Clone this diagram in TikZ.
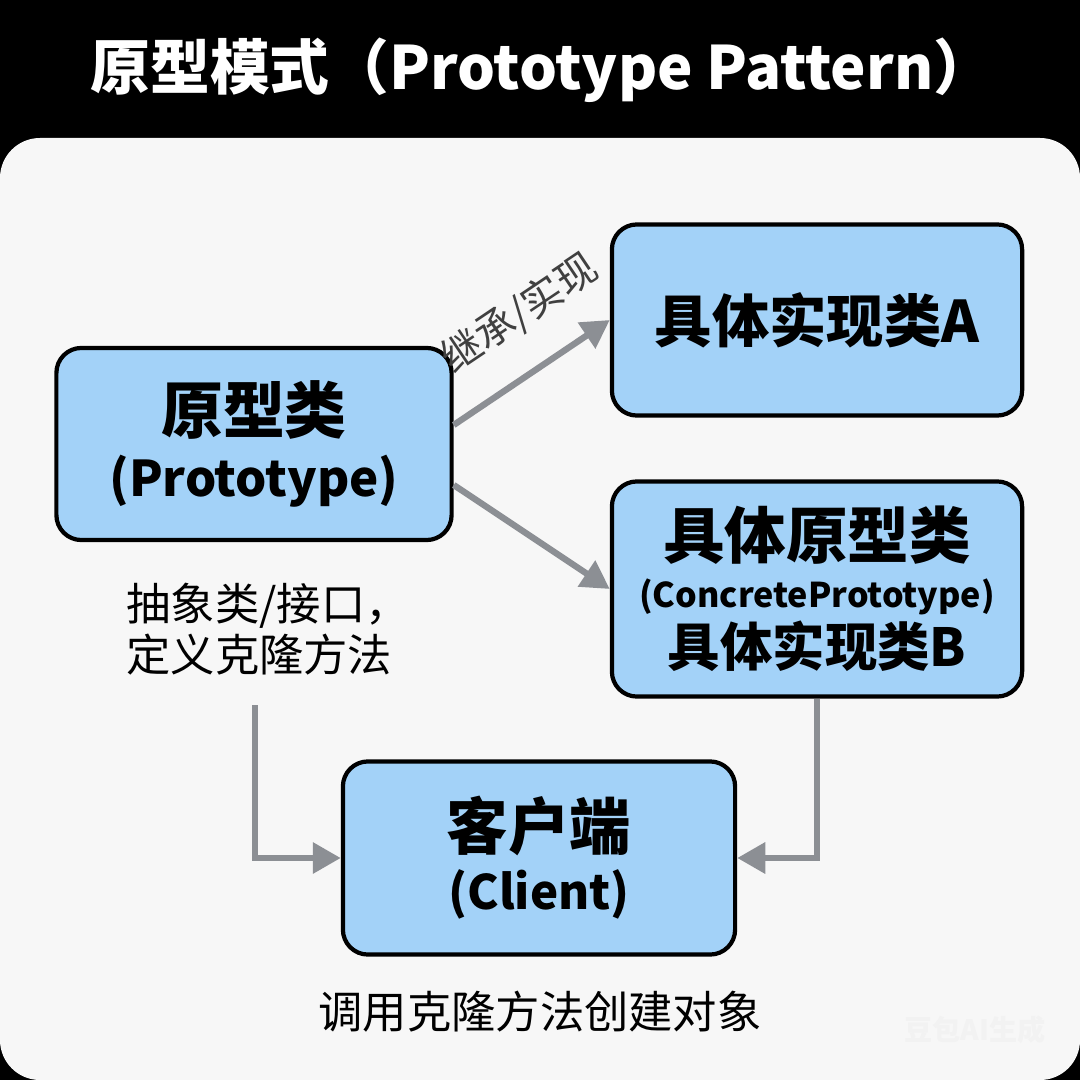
\documentclass[tikz,border=0pt]{standalone}
\usepackage{fontspec}
\setmainfont{Noto Sans CJK SC}
\usetikzlibrary{arrows.meta}
\definecolor{PPBlue}{HTML}{A3D2F8}
\definecolor{PPGrey}{HTML}{8C8F94}
\definecolor{PPPanel}{HTML}{F7F7F7}
\tikzset{
  classbox/.style={draw=black,line width=1.2pt,fill=PPBlue,rounded corners=0.25cm,
    align=center,inner sep=0pt,font=\bfseries},
  link/.style={draw=PPGrey,line width=1.8pt,-{Triangle[length=0.28cm,width=0.3cm]}},
  note/.style={font=\fontsize{12.6}{14.5}\selectfont},
}

\begin{document}
\begin{tikzpicture}[x=0.01cm,y=-0.01cm]
\path[use as bounding box] (0,0) rectangle (1080,1080);
\fill[black] (0,0) rectangle (1080,1080);
\fill[PPPanel,rounded corners=0.4cm] (0,138) rectangle (1080,1080);
\node[text=white,font=\bfseries\fontsize{17}{20}\selectfont] (title) at (542,70) {原型模式（Prototype Pattern）};
% class boxes
\node[classbox,minimum width=3.95cm,minimum height=1.92cm] (proto) at (254,444)
  {\fontsize{17.6}{20}\selectfont 原型类\\[0.12cm] {\fontsize{14}{20}\selectfont (Prototype)}};
\node[classbox,minimum width=4.10cm,minimum height=1.91cm] (implA) at (817,320)
  {\fontsize{16.3}{20}\selectfont 具体实现类A};
\node[classbox,minimum width=4.10cm,minimum height=2.15cm] (concB) at (817,589)
  {\fontsize{17.5}{16.5}\selectfont 具体原型类\\[0.06cm] {\fontsize{9.7}{15}\selectfont (ConcretePrototype)}\\[0.03cm] {\fontsize{14.9}{15}\selectfont 具体实现类B}};
\node[classbox,minimum width=3.92cm,minimum height=1.93cm] (client) at (539,858)
  {\fontsize{17.5}{18.5}\selectfont 客户端\\[0.1cm] {\fontsize{13.5}{18.5}\selectfont (Client)}};
% notes
\node[note,anchor=west,align=left] (protoNote) at (114,629) {抽象类/接口，\\ 定义克隆方法};
\node[note] (clientNote) at (540,1012) {调用克隆方法创建对象};
\node[font=\bfseries\fontsize{8}{9}\selectfont,text=gray!10] (mark) at (975,1030) {豆包AI生成};
% connectors
\coordinate (noteEnd) at (255,705);
\draw[link] ([yshift=0.19cm]proto.east) -- node[pos=0.62,sloped,above=0.2cm,font=\fontsize{11.5}{12}\selectfont,text=black!75] {继承/实现} (implA.west);
\draw[link] ([yshift=-0.41cm]proto.east) -- (concB.west);
\draw[link] (noteEnd) |- (client.west);
\draw[link] (concB.south) |- (client.east);
\end{tikzpicture}
\end{document}
